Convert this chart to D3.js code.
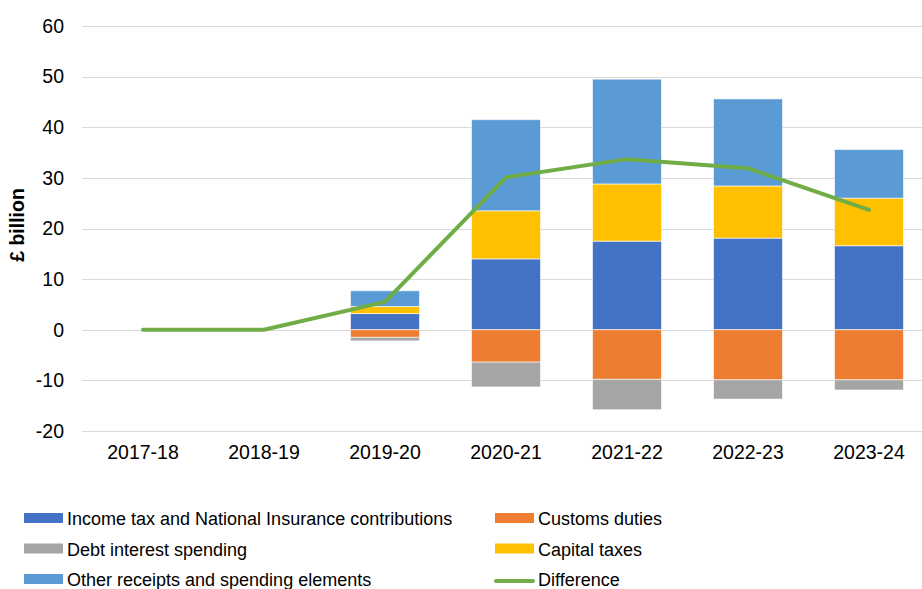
<!DOCTYPE html>
<html>
<head>
<meta charset="utf-8">
<script src="https://cdn.jsdelivr.net/npm/d3@7"></script>
<style>
  html, body { margin: 0; padding: 0; background: #fff; }
  svg { display: block; font-family: "Liberation Sans", Arial, sans-serif; }
</style>
</head>
<body>
<svg id="chart" width="922" height="589"></svg>
<script>
// Fiscal years shown on the x axis
const years = ["2017-18", "2018-19", "2019-20", "2020-21", "2021-22", "2022-23", "2023-24"];

// Components, £ billion
const incomeTaxNI   = [0, 0, 3.2, 14.0, 17.5, 18.1, 16.6];
const customsDuties = [0, 0, -1.5, -6.4, -9.8, -9.9, -9.9];
const debtInterest  = [0, 0, -0.7, -4.9, -6.0, -3.8, -2.0];
const capitalTaxes  = [0, 0, 1.4, 9.5, 11.3, 10.3, 9.4];
const otherElements = [0, 0, 3.1, 18.0, 20.7, 17.2, 9.6];

// Net difference line, £ billion
const difference    = [0, 0, 5.5, 30.1, 33.7, 31.9, 23.7];

// Axis ticks
const yTicks = [-20, -10, 0, 10, 20, 30, 40, 50, 60];

const seriesKeys = ["income", "customs", "debt", "capital", "other"];
const seriesNames = {
  income: "Income tax and National Insurance contributions",
  customs: "Customs duties",
  debt: "Debt interest spending",
  capital: "Capital taxes",
  other: "Other receipts and spending elements"
};
const colors = {
  income: "#4472c4",
  customs: "#ed7d31",
  debt: "#a5a5a5",
  capital: "#ffc000",
  other: "#5b9bd5",
  diff: "#70ad47"
};

const rows = years.map((y, i) => ({
  year: y,
  income: incomeTaxNI[i],
  customs: customsDuties[i],
  debt: debtInterest[i],
  capital: capitalTaxes[i],
  other: otherElements[i]
}));

const svg = d3.select("#chart");

const x = d3.scaleBand()
  .domain(years)
  .range([82.5, 929.5])
  .paddingInner(0.43)
  .paddingOuter(0.215);

const y = d3.scaleLinear()
  .domain([-20, 60])
  .range([431, 26]);

// Gridlines
svg.append("g")
  .selectAll("line")
  .data(yTicks)
  .join("line")
  .attr("x1", 82)
  .attr("x2", 922)
  .attr("y1", d => Math.round(y(d)) + 0.5)
  .attr("y2", d => Math.round(y(d)) + 0.5)
  .attr("stroke", "#d9d9d9")
  .attr("stroke-width", 1.2);

// Y axis labels (plain hyphen for negatives)
const yAxis = svg.append("g")
  .attr("transform", "translate(82,0)")
  .call(d3.axisLeft(y).tickValues(yTicks).tickSize(0).tickPadding(18).tickFormat(d => String(d)));
yAxis.select(".domain").remove();
yAxis.selectAll("text")
  .attr("font-size", "19.5px")
  .attr("fill", "#000")
  .attr("font-family", "'Liberation Sans', Arial, sans-serif");

// X axis labels
const xAxis = svg.append("g")
  .attr("transform", "translate(0,431)")
  .call(d3.axisBottom(x).tickSize(0).tickPadding(14));
xAxis.select(".domain").remove();
xAxis.selectAll("text")
  .attr("font-size", "19.5px")
  .attr("fill", "#000")
  .attr("font-family", "'Liberation Sans', Arial, sans-serif");

// Y axis title
svg.append("text")
  .attr("transform", "translate(24,225) rotate(-90)")
  .attr("text-anchor", "middle")
  .attr("font-size", "19.5px")
  .attr("font-weight", "bold")
  .attr("fill", "#000")
  .text("£ billion");

// Stacked bars, positives above zero and negatives below
const stack = d3.stack()
  .keys(seriesKeys)
  .offset(d3.stackOffsetDiverging);
const stacked = stack(rows);

svg.append("g")
  .selectAll("g")
  .data(stacked)
  .join("g")
  .attr("fill", d => colors[d.key])
  .selectAll("rect")
  .data(d => d.filter(p => p[1] - p[0] !== 0))
  .join("rect")
  .attr("x", d => x(d.data.year))
  .attr("width", x.bandwidth())
  .attr("y", d => y(Math.max(d[0], d[1])))
  .attr("height", d => Math.abs(y(d[0]) - y(d[1])))
  .attr("stroke", "#ffffff")
  .attr("stroke-opacity", 0.6)
  .attr("stroke-width", 1);

// Difference line
const line = d3.line()
  .x((d, i) => x(years[i]) + x.bandwidth() / 2)
  .y(d => y(d));

svg.append("path")
  .datum(difference)
  .attr("d", line)
  .attr("fill", "none")
  .attr("stroke", colors.diff)
  .attr("stroke-width", 4)
  .attr("stroke-linejoin", "round")
  .attr("stroke-linecap", "round");

// Legend
const legendItems = [
  { key: "income", col: 0, row: 0 },
  { key: "customs", col: 1, row: 0 },
  { key: "debt", col: 0, row: 1 },
  { key: "capital", col: 1, row: 1 },
  { key: "other", col: 0, row: 2 },
  { key: "diff", col: 1, row: 2, line: true }
];
const colX = [24, 495];
const rowY = [518, 548.5, 579];

const legend = svg.append("g");
legendItems.forEach(item => {
  const gx = colX[item.col];
  const gy = rowY[item.row];
  if (item.line) {
    legend.append("line")
      .attr("x1", gx + 1).attr("x2", gx + 38)
      .attr("y1", gy + 2).attr("y2", gy + 2)
      .attr("stroke", colors.diff)
      .attr("stroke-width", 4)
      .attr("stroke-linecap", "round");
  } else {
    legend.append("rect")
      .attr("x", gx).attr("y", gy - 5)
      .attr("width", 39).attr("height", 10)
      .attr("fill", colors[item.key]);
  }
  legend.append("text")
    .attr("x", gx + 43)
    .attr("y", gy + 7)
    .attr("font-size", "18px")
    .attr("fill", "#000")
    .text(item.key === "diff" ? "Difference" : seriesNames[item.key]);
});
</script>
</body>
</html>
